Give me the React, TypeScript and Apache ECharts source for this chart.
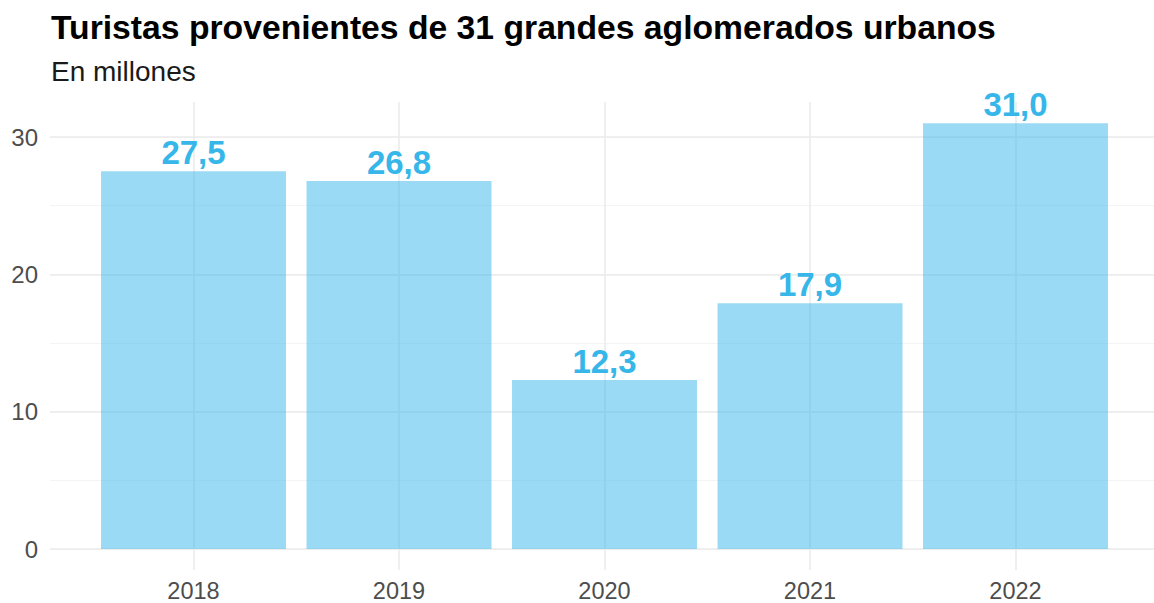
import React, { useEffect, useRef } from "react";
import * as echarts from "echarts";

const years = ["2018", "2019", "2020", "2021", "2022"];
const turistas = [27.5, 26.8, 12.3, 17.9, 31.0];
const yMajorTicks = [0, 10, 20, 30];

const TITLE = "Turistas provenientes de 31 grandes aglomerados urbanos";
const SUBTITLE = "En millones";
const FONT = "'Liberation Sans', Arial, Helvetica, sans-serif";

export default function App() {
  const ref = useRef<HTMLDivElement>(null);
  useEffect(() => {
    if (!ref.current) return;
    const chart = echarts.init(ref.current, undefined, { renderer: "svg" });
    const yMax = 32.55;
    chart.setOption({
      animation: false,
      backgroundColor: "#ffffff",
      textStyle: { fontFamily: FONT },
      title: [
        {
          text: TITLE,
          left: 51,
          top: 10,
          padding: 0,
          textStyle: { fontFamily: FONT, fontSize: 33.7, fontWeight: "bold", color: "#000000" },
        },
        {
          text: SUBTITLE,
          left: 51,
          top: 57,
          padding: 0,
          textStyle: { fontFamily: FONT, fontSize: 28, fontWeight: "normal", color: "#1a1a1a" },
        },
      ],
      grid: [
        { left: 50, right: 0, top: 102, bottom: 54, containLabel: false },
        { left: 90.75, width: 1027.5, top: 102, bottom: 54, containLabel: false },
      ],
      xAxis: [
        { type: "value", gridIndex: 0, show: false, min: 0, max: 1 },
        {
          type: "category",
          gridIndex: 1,
          data: years,
          axisLine: { show: false },
          axisTick: { show: true, alignWithLabel: true, length: 21, lineStyle: { color: "#ebebeb", width: 1.6 } },
          axisLabel: { margin: 30, fontSize: 23.5, color: "#4d4d4d", fontFamily: FONT },
          splitLine: { show: true, alignWithLabel: true, lineStyle: { color: "#ebebeb", width: 1.6 } },
        },
      ],
      yAxis: [
        {
          type: "value",
          gridIndex: 0,
          position: "left",
          min: 0,
          max: yMax,
          interval: 5,
          axisLine: { show: false },
          axisTick: { show: false },
          axisLabel: { show: false },
          splitLine: { show: true, showMaxLine: false, lineStyle: { color: "#f4f4f4", width: 1.2 } },
        },
        {
          type: "value",
          gridIndex: 0,
          position: "left",
          min: 0,
          max: yMax,
          interval: 10,
          axisLine: { show: false },
          axisTick: { show: false },
          axisLabel: {
            margin: 12,
            fontSize: 24,
            color: "#4d4d4d",
            fontFamily: FONT,
            formatter: (v: number) => (yMajorTicks.includes(v) ? String(v) : ""),
          },
          splitLine: { show: true, showMaxLine: false, lineStyle: { color: "#ebebeb", width: 1.6 } },
        },
        {
          type: "value",
          gridIndex: 1,
          position: "left",
          min: 0,
          max: yMax,
          show: false,
          splitLine: { show: false },
        },
      ],
      series: [
        {
          type: "bar",
          xAxisIndex: 1,
          yAxisIndex: 2,
          data: turistas,
          barCategoryGap: "10%",
          itemStyle: { color: "rgba(55,182,233,0.5)" },
          label: {
            show: true,
            position: "top",
            distance: 2,
            fontSize: 33,
            fontWeight: "bold",
            color: "#37b6e9",
            fontFamily: FONT,
            formatter: (p: any) => p.value.toFixed(1).replace(".", ","),
          },
        },
      ],
    });
    return () => chart.dispose();
  }, []);
  return (
    <div
      ref={ref}
      style={{ position: "fixed", left: 0, top: 0, width: 1154, height: 603 }}
    />
  );
}
